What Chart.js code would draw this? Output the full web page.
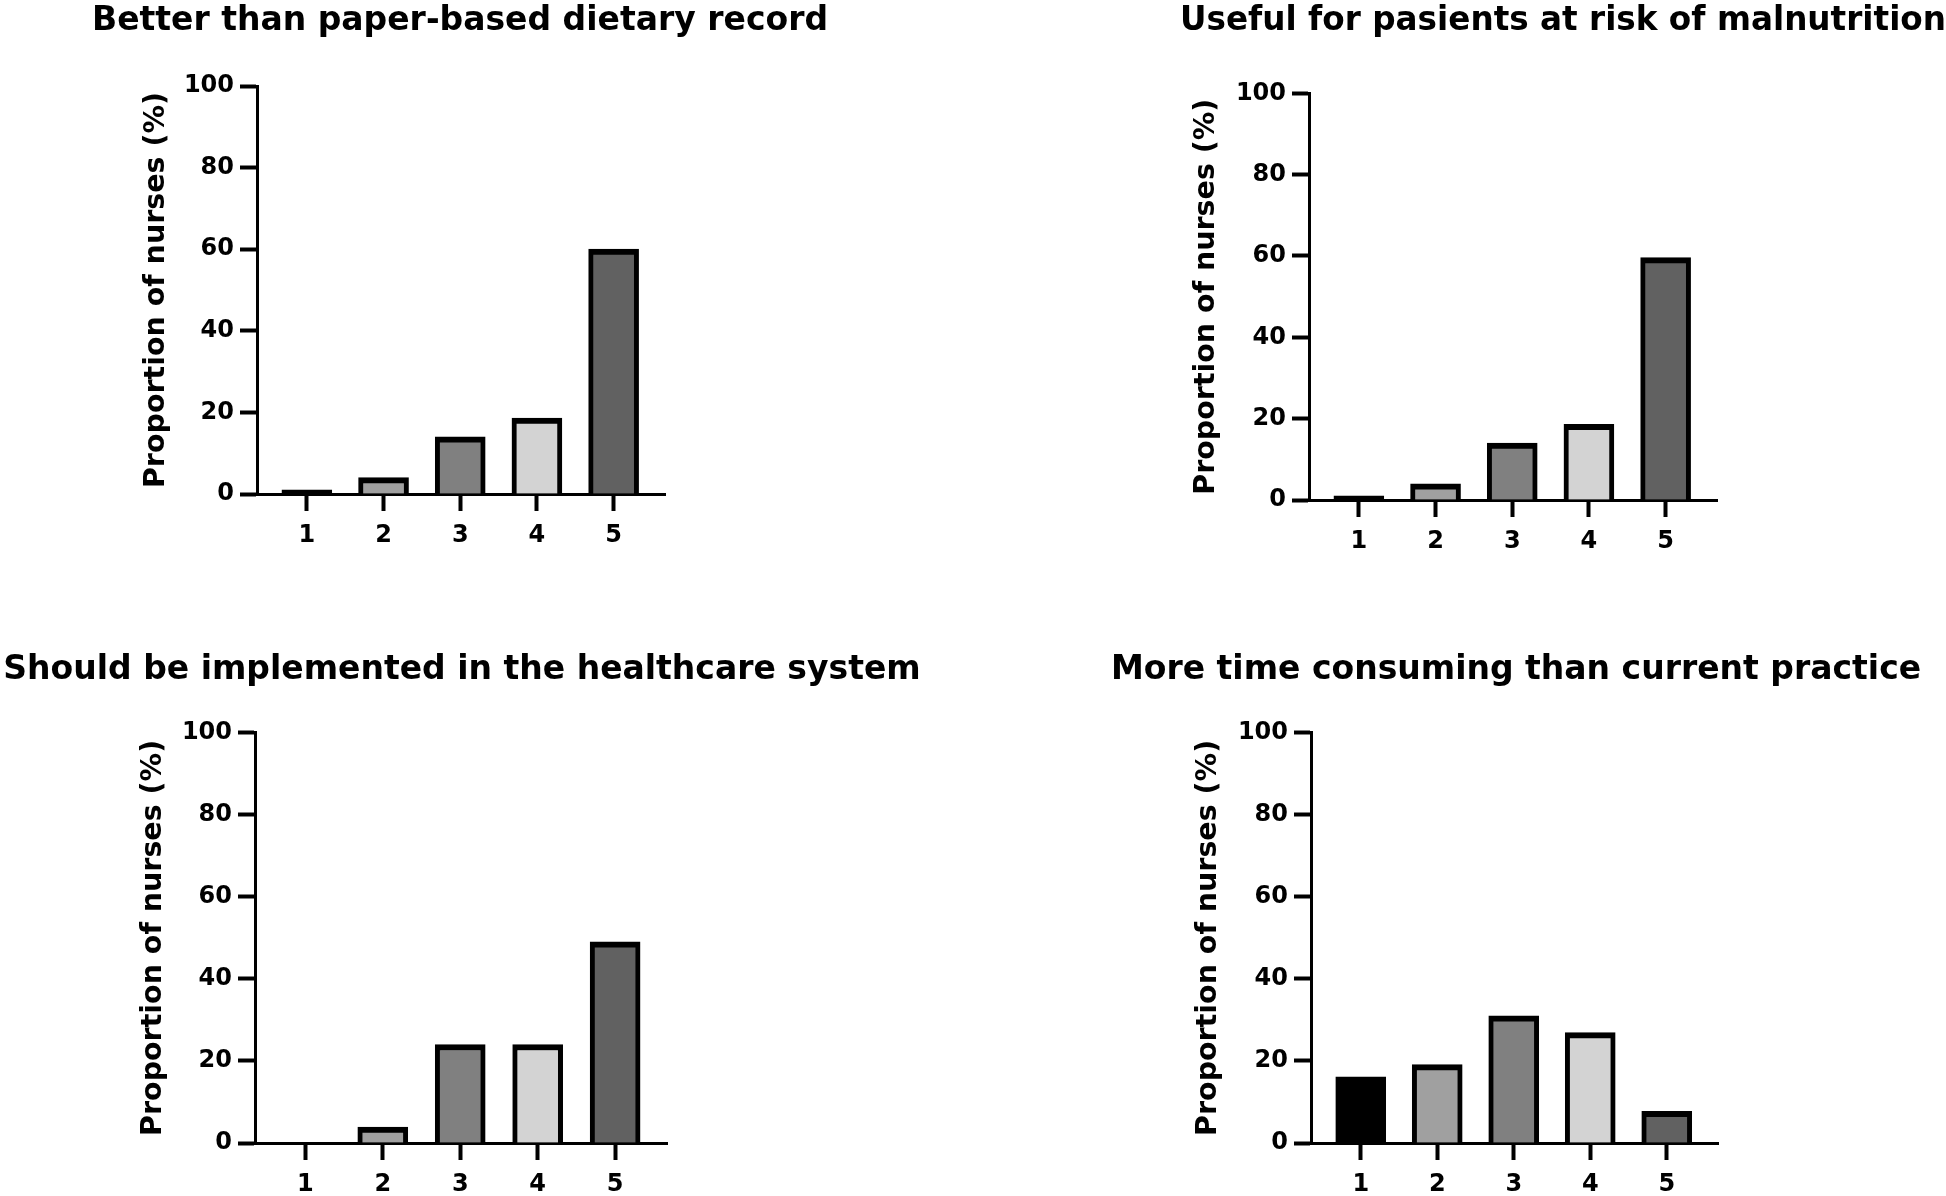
<!DOCTYPE html>
<html>
<head>
<meta charset="utf-8">
<script src="https://cdn.jsdelivr.net/npm/chart.js@4.4.1/dist/chart.umd.min.js"></script>
<style>
  html, body { margin: 0; padding: 0; background: #ffffff; overflow: hidden; width: 1946px; height: 1196px; }
  canvas { position: absolute; }
</style>
</head>
<body>
<canvas id="c1"></canvas>
<canvas id="c2"></canvas>
<canvas id="c3"></canvas>
<canvas id="c4"></canvas>
<script>
// ---- data ----
const categories = [1, 2, 3, 4, 5];
const xTickLabels = ['1', '2', '3', '4', '5'];
const yTickValues = [0, 20, 40, 60, 80, 100];
const yAxisTitle = 'Proportion of nurses (%)';

const titleBetter = 'Better than paper-based dietary record';
const titleUseful = 'Useful for pasients at risk of malnutrition';
const titleImplement = 'Should be implemented in the healthcare system';
const titleTime = 'More time consuming than current practice';

const betterThanPaper = [1, 4, 14, 18.6, 60];
const usefulMalnutrition = [1, 4, 14, 18.6, 59.6];
const shouldBeImplemented = [0, 3.9, 24, 24, 49];
const moreTimeConsuming = [16.1, 19.1, 31, 26.9, 7.7];

const barColors = ['#000000', '#a0a0a0', '#808080', '#d3d3d3', '#616161'];

// ---- layout (positions / sizes) ----
const panels = [
  { id: 'c1', title: titleBetter, values: betterThanPaper,
    left: 0, top: 0, width: 920, height: 544, padL: 0, yW: 257, R: 255,
    titlePadT: 5, titlePadB: 48, yTitlePad: 139 },
  { id: 'c2', title: titleUseful, values: usefulMalnutrition,
    left: 973, top: 0, width: 973, height: 550, padL: 207, yW: 129, R: 229,
    titlePadT: 5, titlePadB: 55.3, yTitlePad: 9 },
  { id: 'c3', title: titleImplement, values: shouldBeImplemented,
    left: 0, top: 642, width: 924, height: 551, padL: 0, yW: 255, R: 257,
    titlePadT: 12, titlePadB: 45.7, yTitlePad: 136 },
  { id: 'c4', title: titleTime, values: moreTimeConsuming,
    left: 973, top: 642, width: 973, height: 551, padL: 113, yW: 225, R: 228,
    titlePadT: 12, titlePadB: 45.7, yTitlePad: 105 }
];

const FAMILY = 'DejaVu Sans';
const tickFont = { family: FAMILY, size: 24, weight: 'bold' };
const xScaleHeight = 50;

panels.forEach(p => {
  const cv = document.getElementById(p.id);
  cv.width = p.width; cv.height = p.height;
  cv.style.left = p.left + 'px'; cv.style.top = p.top + 'px';
  cv.style.width = p.width + 'px'; cv.style.height = p.height + 'px';

  new Chart(cv, {
    type: 'bar',
    data: {
      datasets: [{
        data: categories.map((c, i) => ({ x: c, y: p.values[i] })),
        backgroundColor: barColors,
        borderColor: '#000000',
        borderWidth: { top: 6, left: 5, right: 5, bottom: 0 },
        borderSkipped: 'start',
        barThickness: 50
      }]
    },
    options: {
      responsive: false,
      animation: false,
      devicePixelRatio: 1,
      layout: { padding: { left: p.padL, right: 0, top: 0, bottom: 0 } },
      plugins: {
        legend: { display: false },
        tooltip: { enabled: false },
        title: {
          display: true,
          text: p.title,
          color: '#000000',
          font: { family: FAMILY, size: 33, weight: 'bold', lineHeight: 1 },
          padding: { top: p.titlePadT, bottom: p.titlePadB }
        }
      },
      scales: {
        x: {
          type: 'linear',
          min: 0.35,
          max: 5.67,
          offset: false,
          afterBuildTicks: s => { s.ticks = categories.map(v => ({ value: v })); },
          afterFit: s => { s.height = xScaleHeight; },
          ticks: {
            color: '#000000', font: tickFont, padding: 10, maxRotation: 0, autoSkip: false,
            callback: v => xTickLabels[categories.indexOf(v)]
          },
          grid: { display: true, offset: false, drawOnChartArea: false, drawTicks: true,
                  tickLength: 17, tickWidth: 4, tickColor: '#000000', color: '#000000' },
          border: { display: true, color: '#000000', width: 3 }
        },
        y: {
          type: 'linear',
          position: 'left',
          min: 0,
          max: 100,
          afterBuildTicks: s => { s.ticks = yTickValues.map(v => ({ value: v })); },
          afterFit: s => { s.width = p.yW; },
          ticks: { color: '#000000', font: tickFont, padding: 6 },
          grid: { display: true, drawOnChartArea: false, drawTicks: true,
                  tickLength: 17, tickWidth: 4, tickColor: '#000000', color: '#000000' },
          border: { display: true, color: '#000000', width: 3 },
          title: {
            display: true, text: yAxisTitle, color: '#000000',
            font: { family: FAMILY, size: 28.5, weight: 'bold' },
            padding: { top: p.yTitlePad, bottom: 0 }
          }
        },
        yR: {
          type: 'linear',
          position: 'right',
          display: true,
          afterFit: s => { s.width = p.R; },
          ticks: { display: false },
          grid: { display: false },
          border: { display: false }
        }
      }
    }
  });
});
</script>
</body>
</html>
